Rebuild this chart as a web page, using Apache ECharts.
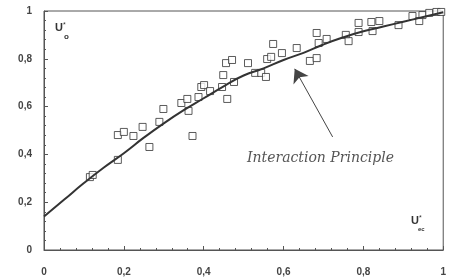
<!DOCTYPE html>
<html>
<head>
<meta charset="utf-8">
<script src="https://cdn.jsdelivr.net/npm/echarts@6/dist/echarts.min.js"></script>
<style>
  html, body { margin: 0; padding: 0; background: #fff; }
  #chart { width: 449px; height: 280px; }
</style>
</head>
<body>
<div id="chart"></div>
<script>
  // measured points (U*ec, U*o)
  var pointsX = [0.115, 0.122, 0.185, 0.185, 0.200, 0.224, 0.247, 0.264, 0.289, 0.299,
                 0.344, 0.359, 0.362, 0.372, 0.387, 0.394, 0.401, 0.416, 0.446, 0.449,
                 0.456, 0.471, 0.459, 0.476, 0.511, 0.529, 0.544, 0.556, 0.559, 0.569,
                 0.574, 0.596, 0.633, 0.666, 0.683, 0.683, 0.688, 0.708, 0.756, 0.763,
                 0.788, 0.788, 0.820, 0.823, 0.840, 0.888, 0.923, 0.940, 0.948, 0.965,
                 0.983, 0.995];
  var pointsY = [0.305, 0.314, 0.377, 0.481, 0.494, 0.477, 0.515, 0.431, 0.536, 0.590,
                 0.615, 0.632, 0.582, 0.477, 0.640, 0.682, 0.690, 0.665, 0.682, 0.732,
                 0.782, 0.795, 0.632, 0.703, 0.782, 0.741, 0.741, 0.724, 0.799, 0.808,
                 0.862, 0.824, 0.845, 0.791, 0.803, 0.908, 0.866, 0.883, 0.900, 0.874,
                 0.950, 0.912, 0.954, 0.916, 0.958, 0.941, 0.979, 0.958, 0.983, 0.992,
                 0.996, 0.996];
  // "Interaction Principle" curve
  var curveX = [0, 0.05, 0.1, 0.15, 0.2, 0.25, 0.3, 0.35, 0.4, 0.45, 0.5,
                0.55, 0.6, 0.65, 0.7, 0.75, 0.8, 0.85, 0.9, 0.95, 1];
  var curveY = [0.14, 0.21, 0.28, 0.345, 0.405, 0.47, 0.53, 0.585, 0.635, 0.685, 0.73,
                0.76, 0.795, 0.825, 0.86, 0.89, 0.915, 0.935, 0.955, 0.975, 0.995];
  var tickLabels = { '0': '0', '0.2': '0,2', '0.4': '0,4', '0.6': '0,6', '0.8': '0,8', '1': '1' };

  var points = [];
  for (var i = 0; i < pointsX.length; i++) points.push([pointsX[i], pointsY[i]]);
  var curve = [];
  for (var j = 0; j < curveX.length; j++) curve.push([curveX[j], curveY[j]]);

  var labelFont = { color: '#444', fontSize: 10, fontWeight: 'bold', fontFamily: 'Liberation Sans' };
  function fmt(v) {
    var k = String(Math.round(v * 10) / 10);
    return tickLabels[k] !== undefined ? tickLabels[k] : '';
  }

  var myChart = echarts.init(document.getElementById('chart'));
  var option = {
    backgroundColor: '#fff',
    animation: false,
    grid: { left: 44, right: 5, top: 11, bottom: 30, show: true, borderColor: '#555', borderWidth: 1 },
    xAxis: {
      type: 'value', min: 0, max: 1, interval: 0.2,
      splitLine: { show: false },
      axisLine: { lineStyle: { color: '#555', width: 1 } },
      axisTick: { inside: true, length: 4, lineStyle: { color: '#555' } },
      minorTick: { show: true, splitNumber: 5, length: 2, lineStyle: { color: '#555' } },
      axisLabel: Object.assign({ margin: 17, formatter: fmt }, labelFont)
    },
    yAxis: {
      type: 'value', min: 0, max: 1, interval: 0.2,
      splitLine: { show: false },
      axisLine: { lineStyle: { color: '#555', width: 1 } },
      axisTick: { inside: true, length: 4, lineStyle: { color: '#555' } },
      minorTick: { show: true, splitNumber: 5, length: 2, lineStyle: { color: '#555' } },
      axisLabel: Object.assign({ margin: 12, padding: [8, 0, 0, 0], formatter: fmt }, labelFont)
    },
    graphic: [
      {
        type: 'text', left: 55, top: 22,
        style: {
          text: '{u|U}{s|*}\n{b| }{o|o}',
          rich: {
            u: { fontSize: 11, fontWeight: 'bold', fill: '#333', fontFamily: 'Liberation Sans' },
            s: { fontSize: 7, fill: '#333', verticalAlign: 'top' },
            b: { fontSize: 7, width: 9 },
            o: { fontSize: 8, fontWeight: 'bold', fill: '#333', fontFamily: 'Liberation Sans' }
          }
        }
      },
      {
        type: 'text', left: 411, top: 215,
        style: {
          text: '{u|U}{s|*}\n{b| }{o|ec}',
          rich: {
            u: { fontSize: 11, fontWeight: 'bold', fill: '#333', fontFamily: 'Liberation Sans' },
            s: { fontSize: 7, fill: '#333', verticalAlign: 'top' },
            b: { fontSize: 6, width: 7 },
            o: { fontSize: 6, fontWeight: 'bold', fill: '#333', fontFamily: 'Liberation Sans' }
          }
        }
      },
      {
        type: 'text', left: 247, top: 151,
        style: {
          text: 'Interaction Principle',
          font: 'italic 14px "DejaVu Serif"',
          fill: '#555'
        }
      }
    ],
    series: [
      {
        type: 'line',
        data: curve,
        smooth: true,
        symbol: 'none',
        lineStyle: { color: '#333', width: 2 },
        markLine: {
          silent: true,
          symbol: ['none', 'arrow'],
          symbolSize: 13,
          label: { show: false },
          lineStyle: { color: '#444', width: 1, type: 'solid' },
          data: [[{ coord: [0.723, 0.473] }, { coord: [0.628, 0.758] }]]
        }
      },
      {
        type: 'scatter',
        data: points,
        symbol: 'rect',
        symbolSize: 7,
        itemStyle: { color: '#fff', borderColor: '#333', borderWidth: 1 }
      }
    ]
  };
  myChart.setOption(option);
</script>
</body>
</html>
